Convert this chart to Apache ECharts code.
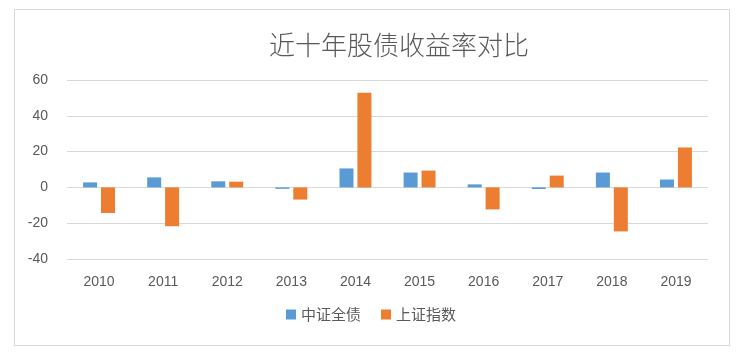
<!DOCTYPE html>
<html>
<head>
<meta charset="utf-8">
<script src="https://cdn.jsdelivr.net/npm/echarts@6/dist/echarts.min.js"></script>
<style>
  html, body { margin: 0; padding: 0; background: #fff; }
  #frame {
    position: absolute; left: 14px; top: 9px; width: 714px; height: 335px;
    border: 1px solid #d9d9d9;
  }
  #main { position: absolute; left: 0; top: 0; width: 742px; height: 353px; }
</style>
</head>
<body>
<div id="frame"></div>
<div id="main"></div>
<script>
// 年份
var years = ["2010", "2011", "2012", "2013", "2014", "2015", "2016", "2017", "2018", "2019"];
// 中证全债
var bondData = [2.8, 5.6, 3.4, -0.8, 10.6, 8.3, 1.7, -0.9, 8.3, 4.4];
// 上证指数
var indexData = [-14.3, -21.7, 3.2, -6.8, 52.9, 9.4, -12.3, 6.6, -24.6, 22.3];
var yTicks = [-40, -20, 0, 20, 40, 60];

var chart = echarts.init(document.getElementById("main"));
var font = "'Microsoft YaHei', 'Noto Sans CJK SC', sans-serif";
var option = {
  animation: false,
  title: {
    text: "近十年股债收益率对比",
    left: 394,
    top: 27,
    textAlign: "center",
    textStyle: { color: "#595959", fontSize: 26, fontWeight: 300, fontFamily: font }
  },
  legend: {
    data: ["中证全债", "上证指数"],
    bottom: 26,
    left: 281,
    icon: "rect",
    itemWidth: 10,
    itemHeight: 10,
    itemGap: 20,
    textStyle: { color: "#595959", fontSize: 15, fontFamily: font }
  },
  grid: { left: 67, right: 34, top: 80, bottom: 94 },
  xAxis: {
    type: "category",
    data: years,
    axisLine: { show: false },
    axisTick: { show: false },
    axisLabel: { color: "#595959", fontSize: 14, margin: 16, fontFamily: "Arial, 'Liberation Sans', sans-serif" }
  },
  yAxis: {
    type: "value",
    min: yTicks[0],
    max: yTicks[yTicks.length - 1],
    interval: 20,
    axisLine: { show: false },
    axisTick: { show: false },
    axisLabel: { color: "#595959", fontSize: 14, margin: 19, fontFamily: "Arial, 'Liberation Sans', sans-serif" },
    splitLine: { lineStyle: { color: "#d9d9d9", width: 1 } }
  },
  series: [
    {
      name: "中证全债",
      type: "bar",
      data: bondData,
      barWidth: 14,
      barGap: "28%",
      itemStyle: { color: "#5B9BD5" }
    },
    {
      name: "上证指数",
      type: "bar",
      data: indexData,
      barWidth: 14,
      itemStyle: { color: "#ED7D31" }
    }
  ]
};
chart.setOption(option);
</script>
</body>
</html>
